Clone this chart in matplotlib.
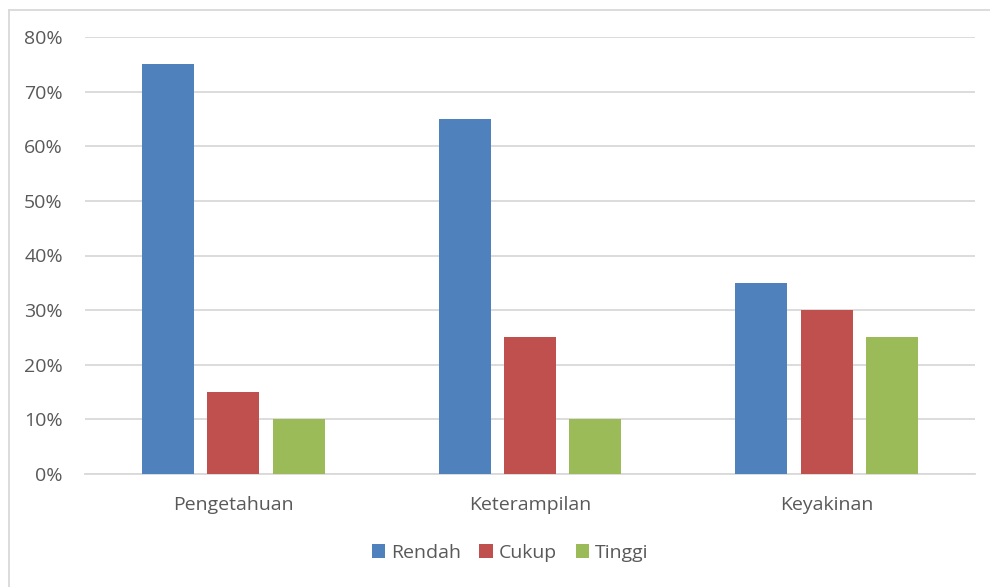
import numpy as np
import matplotlib.pyplot as plt
from matplotlib.lines import Line2D
from matplotlib.ticker import PercentFormatter

categories = ["Pengetahuan", "Keterampilan", "Keyakinan"]
series = ["Rendah", "Cukup", "Tinggi"]
rendah = [0.75, 0.65, 0.35]
cukup = [0.15, 0.25, 0.30]
tinggi = [0.10, 0.10, 0.25]
colors = ["#4F81BD", "#C0504D", "#9BBB59"]

plt.rcParams['font.family'] = ['Open Sans', 'DejaVu Sans']
text_color = "#595959"
grid_color = "#D9D9D9"

fig = plt.figure(figsize=(9.9, 5.87), dpi=100)
ax = fig.add_axes([85 / 990, 1 - 474 / 587, 890 / 990, 437 / 587])

x = np.arange(len(categories))
width = 52 / 297
step = 65.5 / 297
for i, (name, vals) in enumerate(zip(series, [rendah, cukup, tinggi])):
    ax.bar(x + (i - 1) * step, vals, width, color=colors[i], label=name, zorder=3)

ax.set_xlim(-0.5, len(categories) - 0.5)
ax.set_ylim(0, 0.8)
ax.set_yticks(np.arange(0, 0.81, 0.1))
ax.yaxis.set_major_formatter(PercentFormatter(1.0, decimals=0))
ax.set_xticks(x)
ax.set_xticklabels(categories)
ax.grid(axis="y", color=grid_color, linewidth=1.3, zorder=0)
for side in ["top", "right", "left"]:
    ax.spines[side].set_visible(False)
ax.spines["bottom"].set_color(grid_color)
ax.spines["bottom"].set_linewidth(1.3)
ax.tick_params(axis="both", length=0, labelsize=14, colors=text_color)
ax.tick_params(axis="y", pad=16)
ax.tick_params(axis="x", pad=16)

leg = fig.legend(loc="center", bbox_to_anchor=(510 / 990, 1 - 553 / 587), ncol=3,
                 frameon=False, fontsize=14, handlelength=0.7, handleheight=0.7,
                 handletextpad=0.3, columnspacing=0.95)
for t in leg.get_texts():
    t.set_color(text_color)

# outer chart border (left and top visible)
fig.add_artist(Line2D([9 / 990, 9 / 990], [0, 1 - 10 / 587], color=grid_color, linewidth=1.3))
fig.add_artist(Line2D([9 / 990, 1], [1 - 10 / 587, 1 - 10 / 587], color=grid_color, linewidth=1.3))

fig.savefig("out.png", dpi=100)
